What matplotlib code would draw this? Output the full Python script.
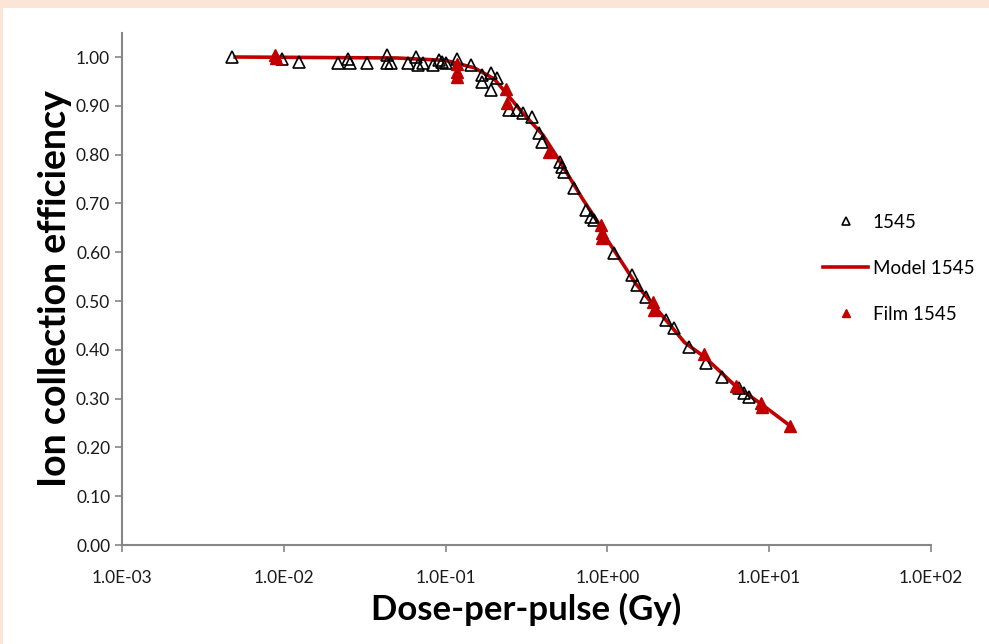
import numpy as np
import matplotlib
matplotlib.use('Agg')
import matplotlib.pyplot as plt
from matplotlib.patches import Rectangle
from matplotlib.ticker import FixedLocator, FixedFormatter, NullLocator

# measured ion chamber data (1545)
dose_1545 = [0.00478, 0.00973, 0.0124, 0.0215, 0.0248, 0.0255, 0.0325, 0.0433, 0.0433,
             0.0457, 0.0582, 0.0653, 0.0671, 0.0721, 0.0832, 0.0906, 0.0944, 0.101,
             0.117, 0.144, 0.169, 0.169, 0.192, 0.192, 0.209, 0.248, 0.278, 0.299,
             0.340, 0.380, 0.397, 0.506, 0.527, 0.543, 0.625, 0.741, 0.796, 0.832,
             1.104, 1.427, 1.531, 1.741, 2.31, 2.59, 3.21, 4.08, 5.13, 6.53, 7.01, 7.53]
eff_1545 = [1.000, 0.996, 0.990, 0.988, 0.996, 0.988, 0.988, 1.004, 0.988,
            0.988, 0.988, 1.000, 0.984, 0.988, 0.984, 0.994, 0.990, 0.988,
            0.996, 0.984, 0.963, 0.949, 0.967, 0.932, 0.957, 0.891, 0.891, 0.885,
            0.877, 0.844, 0.826, 0.785, 0.775, 0.764, 0.732, 0.686, 0.672, 0.666,
            0.598, 0.553, 0.533, 0.508, 0.461, 0.445, 0.406, 0.373, 0.344, 0.322, 0.311, 0.303]

# model curve
dose_model = [0.005, 0.05, 0.1, 0.15, 0.2, 0.3, 0.4, 0.5, 0.7, 0.9, 1.0, 1.5,
              2.0, 3.0, 4.0, 6.0, 9.0, 13.5]
eff_model = [1.000, 0.998, 0.993, 0.978, 0.955, 0.885, 0.840, 0.790, 0.710, 0.655,
             0.625, 0.535, 0.485, 0.415, 0.385, 0.330, 0.288, 0.244]

# film measurements
dose_film = [0.0088, 0.0090, 0.117, 0.117, 0.117, 0.235, 0.240, 0.438, 0.918, 0.925,
             0.930, 1.90, 1.95, 3.97, 6.25, 8.93, 9.0, 13.5]
eff_film = [1.005, 0.998, 0.985, 0.970, 0.960, 0.935, 0.905, 0.805, 0.655, 0.640,
            0.630, 0.498, 0.482, 0.391, 0.326, 0.291, 0.283, 0.244]

x_ticks = [1e-3, 1e-2, 1e-1, 1e0, 1e1, 1e2]
x_labels = ['1.0E-03', '1.0E-02', '1.0E-01', '1.0E+00', '1.0E+01', '1.0E+02']
y_ticks = np.round(np.arange(0, 1.01, 0.1), 2)

red = '#C00000'
axis_grey = '#868686'
font = 'Lato'

fig = plt.figure(figsize=(9.89, 6.44), dpi=100, facecolor='#FBE5D6')
fig.patches.append(Rectangle((3 / 989, 0), 1, 1 - 8 / 644, transform=fig.transFigure,
                             facecolor='white', edgecolor='none', zorder=-10))
ax = fig.add_axes([122 / 989, 1 - 545 / 644, (931 - 122) / 989, (545 - 32.6) / 644])
ax.set_zorder(1)

ax.plot(dose_model, eff_model, color=red, lw=2.6, zorder=2, label='Model 1545')
ax.plot(dose_1545, eff_1545, ls='none', marker='^', ms=8, mfc='none', mec='black',
        mew=1.2, zorder=3, label='1545')
ax.plot(dose_film, eff_film, ls='none', marker='^', ms=8.5, color=red, zorder=4,
        label='Film 1545')

ax.set_xscale('log')
ax.set_xlim(1e-3, 1e2)
ax.set_ylim(0, 1.05)
ax.xaxis.set_major_locator(FixedLocator(x_ticks))
ax.xaxis.set_major_formatter(FixedFormatter(x_labels))
ax.xaxis.set_minor_locator(NullLocator())
ax.set_yticks(y_ticks)
ax.set_yticklabels([f'{v:.2f}' for v in y_ticks])

for side in ['top', 'right']:
    ax.spines[side].set_visible(False)
for side in ['left', 'bottom']:
    ax.spines[side].set_color(axis_grey)
    ax.spines[side].set_linewidth(1.5)
ax.tick_params(axis='both', colors=axis_grey, length=5, width=1.2, labelcolor='#1a1a1a',
               labelsize=12.5)
ax.tick_params(axis='x', pad=13)
for lbl in ax.get_xticklabels() + ax.get_yticklabels():
    lbl.set_family(font)

ax.set_xlabel('Dose-per-pulse (Gy)', fontsize=25, fontweight='bold', family=font,
              labelpad=5)
ax.set_ylabel('Ion collection efficiency', fontsize=27, fontweight='bold', family=font,
              labelpad=3)

handles, labels = ax.get_legend_handles_labels()
order = [1, 0, 2]
leg = ax.legend([handles[i] for i in order], [labels[i] for i in order],
                loc='center left', bbox_to_anchor=(0.855, 0.54), frameon=False,
                prop={'family': font, 'size': 13.5}, labelspacing=1.55, borderpad=0,
                handlelength=2.4, handletextpad=0.25, markerscale=0.75)

fig.savefig('out.png', dpi=100, facecolor=fig.get_facecolor())
